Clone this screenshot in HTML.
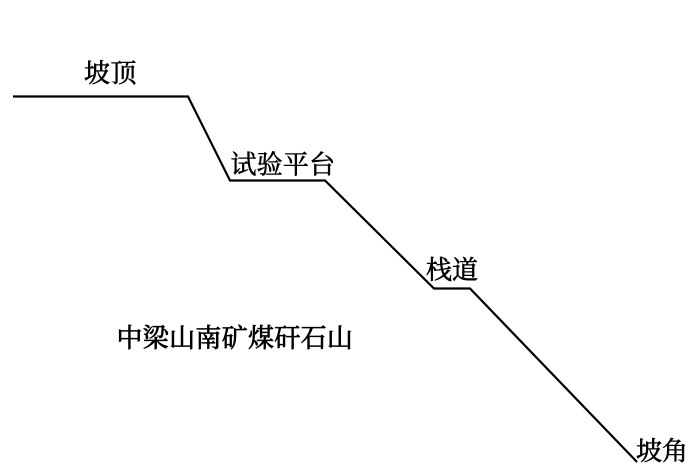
<!DOCTYPE html>
<html lang="zh">
<head>
<meta charset="utf-8">
<style>
html,body{margin:0;padding:0;background:#fff}
svg{display:block}
text{font-family:"Liberation Serif","Noto Serif CJK SC",serif;font-size:26px;fill:#000;stroke:#000;stroke-width:0.55px}
</style>
</head>
<body>
<svg width="700" height="476" viewBox="0 0 700 476" xmlns="http://www.w3.org/2000/svg">
<rect width="700" height="476" fill="#fff"/>
<polyline points="13,96.5 188,96.5 230,180.5 325,180.5 434,288.5 470,288.5 637,462" fill="none" stroke="#000" stroke-width="2.2"/>
<text x="84" y="82" style="letter-spacing:0.5px">坡顶</text>
<text x="230.5" y="173.5" style="letter-spacing:0.2px">试验平台</text>
<text x="426" y="279">栈道</text>
<text x="636" y="460">坡角</text>
<text x="116.5" y="347" style="stroke-width:0.7px;letter-spacing:0.3px">中梁山南矿煤矸石山</text>
</svg>
</body>
</html>
